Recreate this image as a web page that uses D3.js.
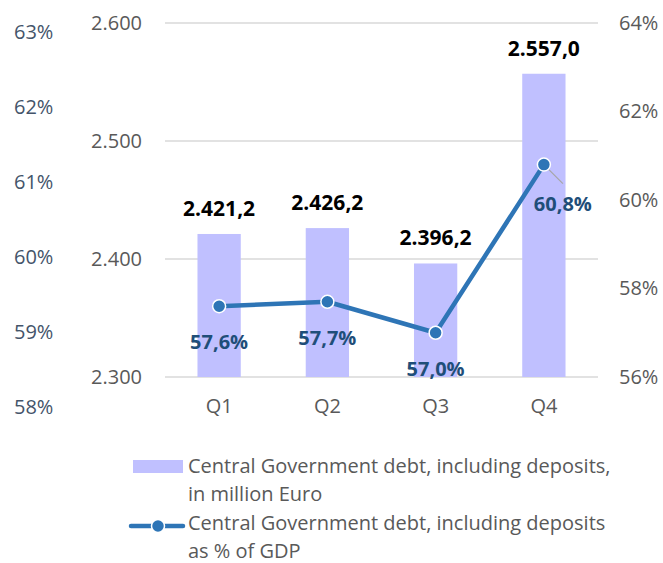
<!DOCTYPE html>
<html>
<head>
<meta charset="utf-8">
<script src="https://cdn.jsdelivr.net/npm/d3@7"></script>
<style>
  html, body { margin: 0; padding: 0; background: #fff; }
  svg { display: block; font-family: "Open Sans", sans-serif; }
</style>
</head>
<body>
<svg id="chart" width="663" height="563"></svg>
<script>
const categories = ["Q1", "Q2", "Q3", "Q4"];
const debtValues = [2421.2, 2426.2, 2396.2, 2557.0];
const gdpShare = [57.6, 57.7, 57.0, 60.8];
const leftTicks = [2300, 2400, 2500, 2600];
const rightTicks = [56, 58, 60, 62, 64];
const farLeftTicks = [58, 59, 60, 61, 62, 63];
const legendLabels = [
  ["Central Government debt, including deposits,", "in million Euro"],
  ["Central Government debt, including deposits", "as % of GDP"]
];

const svg = d3.select("#chart");
const plot = { left: 165, right: 598, top: 23, bottom: 377 };

const loc = d3.formatLocale({ decimal: ",", thousands: ".", grouping: [3], currency: ["", "€"] });
const fmtTick = loc.format(",.0f");
const fmtVal = loc.format(",.1f");
const fmtPct = v => loc.format(".1f")(v) + "%";

const x = d3.scaleBand().domain(categories).range([plot.left, plot.right]).paddingInner(0.6).paddingOuter(0.3);
const yLeft = d3.scaleLinear().domain([2300, 2600]).range([plot.bottom, plot.top]);
const yRight = d3.scaleLinear().domain([56, 64]).range([plot.bottom, plot.top]);
const yFar = d3.scaleLinear().domain([58, 63]).range([407, 32]);

const axisFont = "20px";

// gridlines
svg.append("g").selectAll("line").data(leftTicks).join("line")
  .attr("x1", plot.left).attr("x2", plot.right)
  .attr("y1", d => yLeft(d)).attr("y2", d => yLeft(d))
  .attr("stroke", "#D9D9D9").attr("stroke-width", 1.5);

// inner left axis
const gL = svg.append("g").attr("transform", `translate(${plot.left},0)`)
  .call(d3.axisLeft(yLeft).tickValues(leftTicks).tickFormat(fmtTick).tickSize(0).tickPadding(23));
gL.select(".domain").remove();
gL.selectAll("text").attr("fill", "#595959").style("font-size", axisFont).style("font-family", "'Open Sans', sans-serif");

// right axis
const gR = svg.append("g").attr("transform", `translate(${plot.right},0)`)
  .call(d3.axisRight(yRight).tickValues(rightTicks).tickFormat(d => d + "%").tickSize(0).tickPadding(21));
gR.select(".domain").remove();
gR.selectAll("text").attr("fill", "#595959").style("font-size", axisFont).style("font-family", "'Open Sans', sans-serif");

// far left axis
const gF = svg.append("g").attr("transform", `translate(14,0)`)
  .call(d3.axisRight(yFar).tickValues(farLeftTicks).tickFormat(d => d + "%").tickSize(0).tickPadding(0));
gF.select(".domain").remove();
gF.selectAll("text").attr("fill", "#44546A").style("font-size", axisFont).style("font-family", "'Open Sans', sans-serif");

// x axis labels
const gX = svg.append("g").attr("transform", `translate(0,${plot.bottom})`)
  .call(d3.axisBottom(x).tickSize(0).tickPadding(22));
gX.select(".domain").remove();
gX.selectAll("text").attr("fill", "#595959").style("font-size", axisFont).style("font-family", "'Open Sans', sans-serif");

// bars
svg.append("g").selectAll("rect").data(categories).join("rect")
  .attr("x", d => x(d)).attr("width", x.bandwidth())
  .attr("y", (d, i) => yLeft(debtValues[i]))
  .attr("height", (d, i) => plot.bottom - yLeft(debtValues[i]))
  .attr("fill", "#C0C0FF");

// bar labels
svg.append("g").selectAll("text").data(categories).join("text")
  .attr("x", d => x(d) + x.bandwidth() / 2)
  .attr("y", (d, i) => yLeft(debtValues[i]) - 18)
  .attr("text-anchor", "middle")
  .attr("font-weight", "bold").attr("font-size", "21px").attr("fill", "#000")
  .text((d, i) => fmtVal(debtValues[i]));

// line
const cx = d => x(d) + x.bandwidth() / 2;
const line = d3.line().x((d, i) => cx(categories[i])).y(d => yRight(d));
svg.append("path").datum(gdpShare)
  .attr("d", line).attr("fill", "none")
  .attr("stroke", "#2E75B6").attr("stroke-width", 4.5).attr("stroke-linejoin", "round");

// leader line for Q4 label
const lastIdx = categories.length - 1;
svg.append("line")
  .attr("x1", cx(categories[lastIdx]) + 2).attr("y1", yRight(gdpShare[lastIdx]) + 2)
  .attr("x2", cx(categories[lastIdx]) + 19).attr("y2", yRight(gdpShare[lastIdx]) + 19)
  .attr("stroke", "#A6A6A6").attr("stroke-width", 1.2);

svg.append("g").selectAll("circle").data(gdpShare).join("circle")
  .attr("cx", (d, i) => cx(categories[i])).attr("cy", d => yRight(d))
  .attr("r", 6.5).attr("fill", "#2E75B6").attr("stroke", "#fff").attr("stroke-width", 1.5);

// line labels
svg.append("g").selectAll("text").data(gdpShare).join("text")
  .attr("x", (d, i) => cx(categories[i]) + (i === lastIdx ? 19 : 0))
  .attr("y", (d, i) => yRight(d) + (i === lastIdx ? 46 : 43))
  .attr("text-anchor", "middle")
  .attr("font-weight", "bold").attr("font-size", "20px").attr("fill", "#1F4E79")
  .text(d => fmtPct(d));

// legend
const lg = svg.append("g");
lg.append("rect").attr("x", 133).attr("y", 460).attr("width", 50).attr("height", 13).attr("fill", "#C0C0FF");
lg.append("line").attr("x1", 131).attr("x2", 183).attr("y1", 526).attr("y2", 526)
  .attr("stroke", "#2E75B6").attr("stroke-width", 4.5).attr("stroke-linecap", "round");
lg.append("circle").attr("cx", 158).attr("cy", 526).attr("r", 6.5).attr("fill", "#2E75B6").attr("stroke", "#fff").attr("stroke-width", 1.5);

const legendY = [473, 530];
legendLabels.forEach((lines, k) => {
  const t = lg.append("text").attr("x", 188).attr("y", legendY[k])
    .attr("font-size", "20px").attr("fill", "#595959");
  lines.forEach((s, j) => {
    t.append("tspan").attr("x", 188).attr("dy", j === 0 ? 0 : 27.5).text(s);
  });
});
</script>
</body>
</html>
